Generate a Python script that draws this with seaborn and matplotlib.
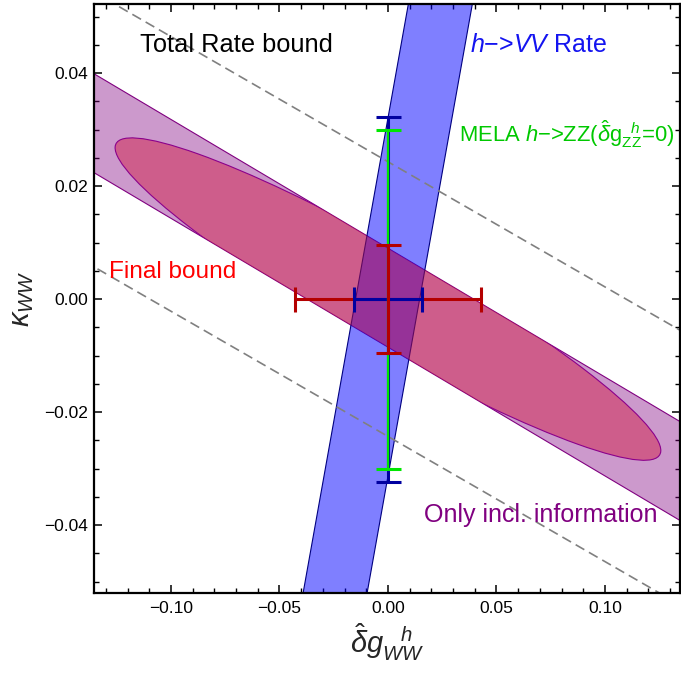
import seaborn as sns
import matplotlib
matplotlib.use('Agg')
import matplotlib.pyplot as plt
from matplotlib.patches import Polygon, Ellipse
from matplotlib.ticker import MultipleLocator

# limites dos eixos
x_lim = [-0.1355, 0.1346]
y_lim = [-0.0520, 0.0522]

# faixa "Only incl. information" (vertices)
incl_x = [-0.14, 0.14, 0.14, -0.14]
incl_y = [0.0409, -0.0229, -0.0404, 0.0234]

# faixa "h->VV Rate" (vertices)
vv_x = [-0.0405, 0.0107, 0.0402, -0.0110]
vv_y = [-0.055, 0.055, 0.055, -0.055]

# elipse "Final bound"
final_centro = (0.0, 0.0)
final_largura = 0.2572
final_altura = 0.0192
final_angulo = -12.09

# retas tracejadas "Total Rate bound"
taxa_x = [-0.14, 0.14]
taxa_sup_y = [0.0553, -0.0067]
taxa_inf_y = [0.0067, -0.0553]

# barras de erro no ponto (0, 0)
erro_vermelho = (0.0427, 0.0096)
erro_azul = (0.0158, 0.0323)
erro_verde = 0.0300

xticks = [-0.10, -0.05, 0.00, 0.05, 0.10]
xtick_labels = ['\u22120.10', '\u22120.05', '0.00', '0.05', '0.10']
yticks = [-0.04, -0.02, 0.00, 0.02, 0.04]
ytick_labels = ['\u22120.04', '\u22120.02', '0.00', '0.02', '0.04']

sns.set_style('ticks')
plt.rcParams['font.family'] = ['Liberation Sans', 'DejaVu Sans']
plt.rcParams['mathtext.fontset'] = 'custom'
plt.rcParams['mathtext.rm'] = 'Liberation Sans'
plt.rcParams['mathtext.it'] = 'Liberation Sans:italic'
plt.rcParams['axes.edgecolor'] = 'black'
plt.rcParams['xtick.color'] = 'black'
plt.rcParams['ytick.color'] = 'black'

fig, ax = plt.subplots(figsize=(6.81, 6.80), dpi=100)
fig.subplots_adjust(left=0.138, right=0.9985, bottom=0.128, top=0.994)

# faixa roxa
faixa = Polygon(list(zip(incl_x, incl_y)), closed=True,
                facecolor=(0.5, 0, 0.5, 0.4), edgecolor='#800080', linewidth=0.8, zorder=1)
ax.add_patch(faixa)

# faixa azul
azul = Polygon(list(zip(vv_x, vv_y)), closed=True,
               facecolor=(0, 0, 1, 0.5), edgecolor='#000080', linewidth=0.8, zorder=2)
ax.add_patch(azul)

# elipse recortada pela faixa
elipse = Ellipse(final_centro, final_largura, final_altura, angle=final_angulo,
                 facecolor=(210/255, 20/255, 60/255, 0.45), edgecolor='#8B008B', linewidth=0.8, zorder=3)
ax.add_patch(elipse)
elipse.set_clip_path(faixa)

# retas tracejadas
for ys in [taxa_sup_y, taxa_inf_y]:
    sns.lineplot(x=taxa_x, y=ys, ax=ax, color='#808080', linewidth=1.2,
                 dashes=False, zorder=4).lines[-1].set_dashes([6, 3.2])

# barras de erro
cap = 9
ax.errorbar(0, 0, xerr=erro_vermelho[0], fmt='none', ecolor='#B40000',
            elinewidth=2.2, capsize=cap, capthick=2.2, zorder=5)
ax.errorbar(0, 0, xerr=erro_azul[0], yerr=erro_azul[1], fmt='none', ecolor='#0000A0',
            elinewidth=2.2, capsize=cap, capthick=2.2, zorder=6)
ax.errorbar(0, 0, yerr=erro_verde, fmt='none', ecolor='#00E600',
            elinewidth=1.6, capsize=cap, capthick=2.2, zorder=7)
ax.errorbar(0, 0, yerr=erro_vermelho[1], fmt='none', ecolor='#B40000',
            elinewidth=2.2, capsize=cap, capthick=2.2, zorder=8)

# textos
ax.text(-0.1143, 0.0438, 'Total Rate bound', fontsize=18.3, color='black', va='baseline', zorder=10)
ax.text(0.0378, 0.0438, '$h$\u2212>$VV$ Rate', fontsize=18, color='#1414F0', va='baseline', zorder=10)
ax.text(0.0327, 0.0278, 'MELA $h$\u2212>ZZ($\\hat{\\delta}\\mathrm{g}_{\\mathrm{ZZ}}^{\\ \\ h}$=0)',
        fontsize=15.8, color='#00C800', va='baseline', zorder=10)
ax.text(-0.1287, 0.0037, 'Final bound', fontsize=17.6, color='#FF0000', va='baseline', zorder=10)
ax.text(0.0166, -0.0394, 'Only incl. information', fontsize=18, color='#800080', va='baseline', zorder=10)

ax.set_xlim(x_lim)
ax.set_ylim(y_lim)
ax.set_xticks(xticks)
ax.set_xticklabels(xtick_labels, fontsize=12.5)
ax.set_yticks(yticks)
ax.set_yticklabels(ytick_labels, fontsize=12.5)
ax.xaxis.set_minor_locator(MultipleLocator(0.01))
ax.yaxis.set_minor_locator(MultipleLocator(0.005))
ax.tick_params(which='both', direction='in', top=True, right=True)
ax.tick_params(which='major', length=6, width=1.1)
ax.tick_params(which='minor', length=3.5, width=1.0)
ax.tick_params(axis='x', which='major', pad=6)
ax.tick_params(axis='y', which='major', pad=4)
for s in ax.spines.values():
    s.set_linewidth(1.6)
    s.set_zorder(20)

ax.set_xlabel('$\\hat{\\delta}g_{WW}^{\\ \\ \\ h}$', fontsize=21, labelpad=4)
ax.set_ylabel('$\\kappa_{WW}$', fontsize=21, labelpad=6)

plt.savefig('out.png', dpi=100)
plt.close()
